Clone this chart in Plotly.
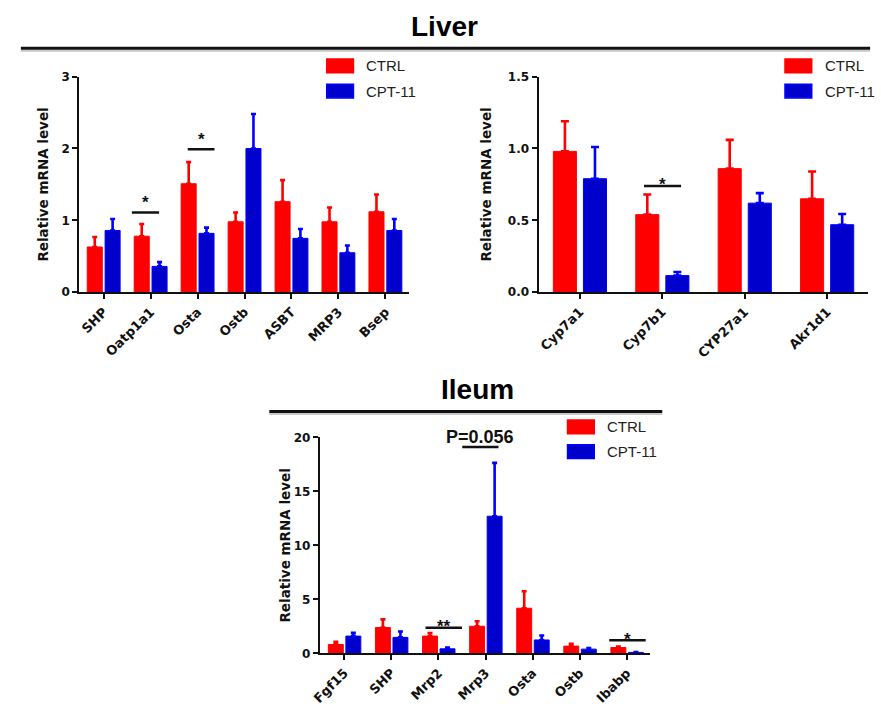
import plotly.graph_objects as go

W, H = 881, 713

# ---------------- data ----------------
liver1_genes = ["SHP", "Oatp1a1", "Osta", "Ostb", "ASBT", "MRP3", "Bsep"]
liver1_ctrl = [0.63, 0.78, 1.51, 0.98, 1.26, 0.98, 1.12]
liver1_ctrl_err = [0.14, 0.17, 0.30, 0.13, 0.30, 0.20, 0.24]
liver1_cpt = [0.86, 0.36, 0.82, 2.00, 0.75, 0.55, 0.86]
liver1_cpt_err = [0.16, 0.06, 0.08, 0.48, 0.13, 0.10, 0.16]

liver2_genes = ["Cyp7a1", "Cyp7b1", "CYP27a1", "Akr1d1"]
liver2_ctrl = [0.98, 0.54, 0.86, 0.65]
liver2_ctrl_err = [0.21, 0.14, 0.20, 0.19]
liver2_cpt = [0.79, 0.116, 0.62, 0.47]
liver2_cpt_err = [0.22, 0.025, 0.07, 0.075]

ileum_genes = ["Fgf15", "SHP", "Mrp2", "Mrp3", "Osta", "Ostb", "Ibabp"]
ileum_ctrl = [0.82, 2.39, 1.60, 2.51, 4.18, 0.67, 0.54]
ileum_ctrl_err = [0.24, 0.76, 0.28, 0.46, 1.57, 0.21, 0.10]
ileum_cpt = [1.60, 1.48, 0.42, 12.7, 1.24, 0.39, 0.09]
ileum_cpt_err = [0.30, 0.55, 0.12, 4.94, 0.42, 0.09, 0.03]

groups = ["CTRL", "CPT-11"]
panel_titles = ["Liver", "Ileum"]
y_title = "Relative mRNA level"

# significance marks: (category index, label, bar height, left, right, star shift px)
liver1_sig = [(1, "*", 1.11, -0.40, 0.18, 10), (2, "*", 1.99, -0.21, 0.36, 10)]
liver2_sig = [(1, "*", 0.74, -0.22, 0.23, 1)]
ileum_sig = [(2, "**", 2.36, -0.275, 0.50, 1), (3, "", 19.1, -0.495, 0.275, 0),
             (6, "*", 1.21, -0.374, 0.40, 1)]
ileum_p_text = "P=0.056"

RED = "#FF0000"
BLUE_FILL = "#0000CC"
BLUE_LINE = "#0000FF"


def px(x):
    return x / W


def py(y):
    return 1 - y / H


fig = go.Figure()

panels = [
    dict(ax="", genes=liver1_genes, ctrl=liver1_ctrl, ce=liver1_ctrl_err, cpt=liver1_cpt,
         pe=liver1_cpt_err, width=0.32, offs=(-0.35, 0.03), cap=2.5),
    dict(ax="2", genes=liver2_genes, ctrl=liver2_ctrl, ce=liver2_ctrl_err, cpt=liver2_cpt,
         pe=liver2_cpt_err, width=0.28, offs=(-0.32, 0.045), cap=4),
    dict(ax="3", genes=ileum_genes, ctrl=ileum_ctrl, ce=ileum_ctrl_err, cpt=ileum_cpt,
         pe=ileum_cpt_err, width=0.317, offs=(-0.338, 0.034), cap=2.5),
]

for p in panels:
    for vals, errs, fill, line, off, name in [
        (p["ctrl"], p["ce"], RED, RED, p["offs"][0], groups[0]),
        (p["cpt"], p["pe"], BLUE_FILL, BLUE_LINE, p["offs"][1], groups[1]),
    ]:
        fig.add_trace(go.Bar(
            x=p["genes"], y=vals, name=name, showlegend=False,
            width=p["width"], offset=off,
            marker=dict(color=fill, line=dict(color=line, width=1)),
            error_y=dict(type="data", array=errs, arrayminus=[0] * len(errs),
                         symmetric=False, color=line, thickness=2.6, width=p["cap"]),
            xaxis="x" + p["ax"], yaxis="y" + p["ax"],
        ))

ytickfont = dict(family="DejaVu Sans", size=12, color="#111", weight="bold")
xtickfont = dict(family="DejaVu Sans", size=13, color="#111", weight="bold")
titlefont = dict(family="DejaVu Sans", size=13.5, color="#111", weight="bold")


def xax(domain, rng, anchor):
    return dict(domain=domain, range=rng, showline=True, linewidth=2, linecolor="#111",
                ticks="outside", ticklen=5, tickwidth=2, tickcolor="#111",
                tickangle=-45, tickfont=xtickfont, showgrid=False, zeroline=False,
                anchor=anchor, fixedrange=True)


def yax(domain, rng, dtick, fmt, anchor, standoff):
    return dict(domain=domain, range=rng, dtick=dtick, tickformat=fmt, showline=True,
                linewidth=2, linecolor="#111", ticks="outside", ticklen=5, tickwidth=2,
                tickcolor="#111", tickfont=ytickfont, showgrid=False, zeroline=False,
                anchor=anchor, fixedrange=True,
                title=dict(text=y_title, font=titlefont, standoff=standoff))


fig.update_layout(
    width=W, height=H,
    margin=dict(l=0, r=0, t=0, b=0),
    paper_bgcolor="white", plot_bgcolor="white",
    barmode="overlay",
    xaxis=xax([px(71), px(404)], [-0.52, 6.5], "y"),
    yaxis=yax([py(291), py(71)], [0, 3], 1, "d", "x", 10),
    xaxis2=xax([px(535), px(868)], [-0.5, 3.5], "y2"),
    yaxis2=yax([py(291), py(71)], [0, 1.5], 0.5, ".1f", "x2", 13),
    xaxis3=xax([px(314), px(648)], [-0.52, 6.5], "y3"),
    yaxis3=yax([py(659.3), py(439)], [0, 20], 5, "d", "x3", 0),
)

shapes = []
annotations = []

# panel titles and rules
annotations.append(dict(text=panel_titles[0], x=px(440), y=py(20), xref="paper", yref="paper",
                        showarrow=False, xanchor="center", yanchor="middle",
                        font=dict(family="Liberation Sans", size=28, color="#000",
                                  weight="bold")))
annotations.append(dict(text=panel_titles[1], x=px(473), y=py(390), xref="paper", yref="paper",
                        showarrow=False, xanchor="center", yanchor="middle",
                        font=dict(family="Liberation Sans", size=28, color="#000",
                                  weight="bold")))
for (x0, x1, yy) in [(12, 870, 42), (263, 660, 412.7)]:
    shapes.append(dict(type="line", xref="paper", yref="paper", x0=px(x0), x1=px(x1),
                       y0=py(yy + 2.5), y1=py(yy + 2.5), line=dict(color="#c8c8c8", width=2)))
    shapes.append(dict(type="line", xref="paper", yref="paper", x0=px(x0), x1=px(x1),
                       y0=py(yy), y1=py(yy), line=dict(color="#111", width=3)))

# legends (drawn as boxes + text)
for (lx, ly1, ly2) in [(321, 60, 85.7), (784, 60, 85.7), (564.3, 428.3, 453.5)]:
    for (yy, fill, line, name) in [(ly1, RED, RED, groups[0]), (ly2, BLUE_FILL, BLUE_LINE, groups[1])]:
        shapes.append(dict(type="rect", xref="paper", yref="paper",
                           x0=px(lx), x1=px(lx + 27), y0=py(yy - 7), y1=py(yy + 7),
                           fillcolor=fill, line=dict(color=line, width=1.5)))
        annotations.append(dict(text=name, x=px(lx + 38), y=py(yy), xref="paper", yref="paper",
                                showarrow=False, xanchor="left", yanchor="middle",
                                font=dict(family="Liberation Sans", size=15, color="#222")))

# significance marks
for ax, sigs in [("", liver1_sig), ("2", liver2_sig), ("3", ileum_sig)]:
    for (ci, lab, yv, l, r, shift) in sigs:
        shapes.append(dict(type="line", xref="x" + ax, yref="y" + ax, x0=ci + l, x1=ci + r,
                           y0=yv, y1=yv, line=dict(color="#111", width=2.5)))
        if lab:
            annotations.append(dict(text=lab, x=ci + (l + r) / 2, y=yv, xref="x" + ax,
                                    yref="y" + ax, showarrow=False, xanchor="center",
                                    yanchor="middle", yshift=shift,
                                    font=dict(family="Liberation Sans", size=17, color="#111",
                                              weight="bold")))

annotations.append(dict(text=ileum_p_text, x=3 - 0.12, y=20, xref="x3", yref="y3",
                        showarrow=False, xanchor="center", yanchor="middle",
                        font=dict(family="Liberation Sans", size=18, color="#111",
                                  weight="bold")))

fig.update_layout(shapes=shapes, annotations=annotations)
fig.write_html("out.html", config={"displayModeBar": False},
               post_script="document.body.style.margin='0';"
                           "document.body.style.overflow='hidden';")
